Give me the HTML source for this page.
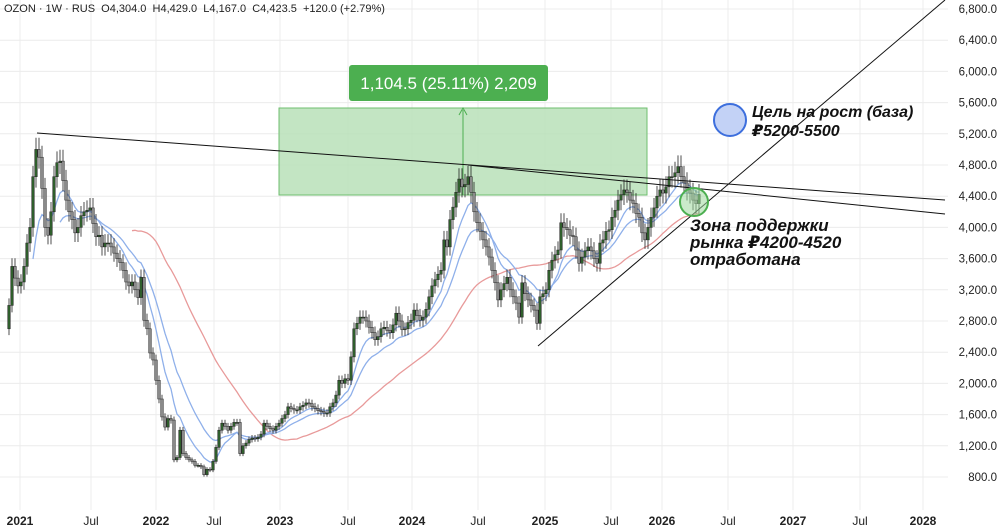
<!DOCTYPE html>
<html><head><meta charset="utf-8">
<style>
body{margin:0;background:#fff;width:1000px;height:532px;overflow:hidden;font-family:"Liberation Sans","Noto Sans CJK SC",sans-serif}
svg{position:absolute;left:0;top:0}
.ann{position:absolute;font-weight:bold;font-style:italic;color:#111;font-family:"Liberation Sans","DejaVu Sans",sans-serif}
</style></head><body>
<svg id="chart" width="1000" height="532"></svg>
<div class="ann" style="left:752px;top:103px;font-size:16px;line-height:19px">Цель на рост (база)<br>₽5200-5500</div>
<div class="ann" style="left:690px;top:217px;font-size:17px;line-height:17px">Зона поддержки<br>рынка ₽4200-4520<br>отработана</div>
<script>
const priceTicks=[800,1200,1600,2000,2400,2800,3200,3600,4000,4400,4800,5200,5600,6000,6400,6800];
const timeLabels=["2021","Jul","2022","Jul","2023","Jul","2024","Jul","2025","Jul","2026","Jul","2027","Jul","2028"];
const timeLabelX=[20,91,156,214,280,348,412,478,545,611,662,728,793,860,923];
const closes=[3000,3500,3350,3250,3300,3500,3800,4000,4650,5000,
4900,4500,4000,3900,4200,4650,4830,4850,4600,4350,
4200,4100,3930,4000,4150,4200,4220,4250,4050,3880,
3900,3750,3800,3800,3750,3670,3600,3550,3450,3300,
3250,3300,3200,3100,3360,2810,2700,2390,2300,2040,
1800,1570,1440,1550,1530,1020,1050,1400,1100,1050,
1020,1000,950,950,930,830,900,890,1000,1180,
1400,1490,1450,1400,1450,1500,1500,1100,1200,
1235,1280,1300,1290,1310,1350,1490,1450,1420,1400,1450,1490,1550,1600,1700,1680,1660,1660,1700,1720,1750,1740,1700,1680,1650,1640,1620,1620,1700,1750,1850,2040,2000,2060,2040,2340,2700,2770,2850,2850,2800,2720,2650,2560,2600,2700,2720,2680,2650,2750,2900,2800,2690,2700,2780,2810,2940,2870,2810,2850,2950,3110,3250,3330,3400,3450,3840,3750,4100,4260,4450,4620,4520,4550,4650,4450,4200,4060,3950,3840,3750,3620,3450,3290,3070,3200,3280,3360,3200,3110,3030,2850,3290,3150,3070,3000,2940,2770,3110,3150,3200,3450,3580,3650,3710,4060,4000,3970,3900,3880,3710,3540,3620,3700,3750,3700,3600,3540,3800,3840,3950,3970,4130,4220,4350,4420,4480,4450,4350,4310,4180,4130,3930,3840,4000,4130,4250,4400,4480,4440,4520,4650,4650,4700,4780,4650,4570,4480,4440,4350,4304,4423.5];
const firstOpen=2700;
const maFast=9, maMid=18, maSlow=42;

const NS="http://www.w3.org/2000/svg";
const svg=document.getElementById('chart');
function yS(v){return 477-(v-800)*0.078;}
function xS(i){return 9+i*(690/(closes.length-1));}
function mk(tag,attrs,parent){const e=document.createElementNS(NS,tag);for(const k in attrs)e.setAttribute(k,attrs[k]);(parent||svg).appendChild(e);return e;}

const grid=mk('g',{});


priceTicks.forEach(v=>{mk('line',{x1:0,x2:948,y1:yS(v),y2:yS(v),stroke:'#ececec','stroke-width':1},grid);});
timeLabelX.forEach(x=>{mk('line',{x1:x,x2:x,y1:0,y2:510,stroke:'#ececec','stroke-width':1},grid);});

const yax=mk('g',{});


priceTicks.forEach(v=>{const t=mk('text',{x:997,y:yS(v)+4,'text-anchor':'end','font-size':11.5,fill:'#222','font-family':'Liberation Sans, sans-serif'},yax);t.textContent=v.toLocaleString('en-US')+'.0';

});

const xax=mk('g',{});


timeLabels.forEach((l,i)=>{const t=mk('text',{x:timeLabelX[i],y:525,'text-anchor':'middle','font-size':12,fill:'#222','font-weight':/^\d/.test(l)?'bold':'normal','font-family':'Liberation Sans, sans-serif'},xax);t.textContent=l;

});

const box=mk('rect',{x:279,y:108,width:368,height:87,fill:'#b9e0b9','fill-opacity':0.85,stroke:'#6fbf6f','stroke-width':1});


mk('line',{x1:463,x2:463,y1:195,y2:110,stroke:'#4caf50','stroke-width':1});
mk('path',{d:'M459,115 L463,108 L467,115',fill:'none',stroke:'#4caf50','stroke-width':1});

function sma(p){const out=[];for(let i=p-1;i<closes.length;i++){let s=0;for(let j=i-p+1;j<=i;j++)s+=closes[j];out.push([xS(i),yS(s/p)]);}return out;}
function ema(p){const out=[];let s=0;for(let j=0;j<p;j++)s+=closes[j];let e=s/p;const k=2/(p+1);out.push([xS(p-1),yS(e)]);for(let i=p;i<closes.length;i++){e=closes[i]*k+e*(1-k);out.push([xS(i),yS(e)]);}return out;}
function pl(pts,color,name){const p=mk('polyline',{points:pts.map(a=>a[0].toFixed(1)+','+a[1].toFixed(1)).join(' '),fill:'none',stroke:color,'stroke-width':1.3});

}
pl(sma(maSlow),'#e89a9a','ma-slow-line');
pl(ema(maMid),'#8fb0ea','ma-mid-line');
pl(ema(maFast),'#8fb0ea','ma-fast-line');

const cg=mk('g',{});


closes.forEach((c,i)=>{
  const o=i?closes[i-1]:firstOpen;const x=xS(i);
  const hi=Math.max(o,c)*1.03, lo=Math.min(o,c)*0.97;
  mk('line',{x1:x,x2:x,y1:yS(hi),y2:yS(lo),stroke:'#222','stroke-width':0.8},cg);
  const top=yS(Math.max(o,c)),h=Math.max(1,Math.abs(yS(o)-yS(c)));
  const r=mk('rect',{x:x-1.3,y:top,width:2.6,height:h,fill:c>=o?'#2f5e2c':'#8a8a8a',stroke:'#222','stroke-width':0.5},cg);
  
  
});

[[37,133,945,200],[468,165,945,214],[538,346,945,0]].forEach((l,i)=>{const e=mk('line',{x1:l[0],y1:l[1],x2:l[2],y2:l[3],stroke:'#111','stroke-width':1});

});

const c1=mk('circle',{cx:730,cy:120,r:16,fill:'#c3d2f6',stroke:'#3d6fdd','stroke-width':2});


const c2=mk('circle',{cx:694,cy:202,r:14,fill:'#9fd89f','fill-opacity':0.55,stroke:'#4caf50','stroke-width':2});



const lb=mk('rect',{x:349,y:65,width:199,height:36,rx:3,fill:'#4caf50'});


const lt=mk('text',{x:448.5,y:89,'text-anchor':'middle','font-size':17,fill:'#fff','font-family':'Liberation Sans, sans-serif'});
lt.textContent='1,104.5 (25.11%) 2,209';

const hd=mk('text',{x:4,y:12,'font-size':11,fill:'#222','font-family':'Liberation Sans, sans-serif'});


hd.textContent='OZON · 1W · RUS  O4,304.0  H4,429.0  L4,167.0  C4,423.5  +120.0 (+2.79%)';
hd.setAttribute('xml:space','preserve');hd.style.whiteSpace='pre';
</script>
</body></html>
